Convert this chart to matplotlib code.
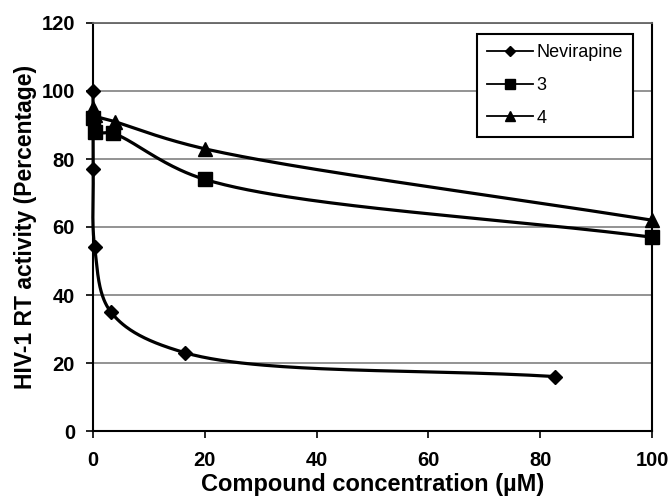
import matplotlib
matplotlib.use("Agg")
import matplotlib.pyplot as plt
from matplotlib.lines import Line2D
import numpy as np

# values
NEV_X = [0.0, 0.05, 0.3, 3.2, 16.5, 82.6]
NEV_Y = [100, 77, 54, 35, 23, 16]
C3_X = [0.0, 0.3, 3.6, 20.0, 100.0]
C3_Y = [92, 88, 87.5, 74, 57]
C4_X = [0.0, 0.3, 3.9, 20.0, 100.0]
C4_Y = [95, 93, 91, 83, 62]

SERIES = [
    ("Nevirapine", NEV_X, NEV_Y, "D", 7.5),
    ("3", C3_X, C3_Y, "s", 10),
    ("4", C4_X, C4_Y, "^", 10),
]

plt.rcParams["font.family"] = ["Liberation Sans", "DejaVu Sans"]


def smooth_curve(ax, xs, ys, steps=60):
    # centripetal Catmull-Rom done in display space, close to the
    # spreadsheet's "smoothed line" look
    pts = ax.transData.transform(np.column_stack([xs, ys]).astype(float))
    first = 2 * pts[0] - pts[1]
    last = 2 * pts[-1] - pts[-2]
    padded = np.vstack([first, pts, last])
    out = []
    for i in range(1, len(padded) - 2):
        p0, p1, p2, p3 = padded[i - 1], padded[i], padded[i + 1], padded[i + 2]
        t0 = 0.0
        t1 = t0 + max(np.linalg.norm(p1 - p0), 1e-6) ** 0.5
        t2 = t1 + max(np.linalg.norm(p2 - p1), 1e-6) ** 0.5
        t3 = t2 + max(np.linalg.norm(p3 - p2), 1e-6) ** 0.5
        t = np.linspace(t1, t2, steps)[:, None]
        a1 = (t1 - t) / (t1 - t0) * p0 + (t - t0) / (t1 - t0) * p1
        a2 = (t2 - t) / (t2 - t1) * p1 + (t - t1) / (t2 - t1) * p2
        a3 = (t3 - t) / (t3 - t2) * p2 + (t - t2) / (t3 - t2) * p3
        b1 = (t2 - t) / (t2 - t0) * a1 + (t - t0) / (t2 - t0) * a2
        b2 = (t3 - t) / (t3 - t1) * a2 + (t - t1) / (t3 - t1) * a3
        out.append((t2 - t) / (t2 - t1) * b1 + (t - t1) / (t2 - t1) * b2)
    curve = ax.transData.inverted().transform(np.vstack(out))
    return curve[:, 0], curve[:, 1]


fig = plt.figure(figsize=(6.72, 4.98), dpi=100)
ax = fig.add_axes([93 / 672, 1 - 431 / 498, 559 / 672, 408 / 498])
ax.set_xlim(0, 100)
ax.set_ylim(0, 120)

handles = []
for label, xs, ys, marker, size in SERIES:
    cx, cy = smooth_curve(ax, xs, ys)
    ax.plot(cx, cy, color="black", linewidth=2.3, zorder=3, clip_on=False)
    ax.plot(xs, ys, linestyle="none", marker=marker, markersize=size,
            color="black", zorder=4, clip_on=False)
    handles.append(Line2D([0], [0], color="black", linewidth=1.3, marker=marker,
                          markersize=size * 0.65, label=label))

ax.set_xticks(np.arange(0, 101, 20))
ax.set_yticks(np.arange(0, 121, 20))
ax.yaxis.grid(True, color="#808080", linewidth=1.2)
ax.set_axisbelow(True)
for side in ("left", "bottom", "right"):
    ax.spines[side].set_linewidth(1.5)
    ax.spines[side].set_color("black")
ax.spines["top"].set_color("#666666")
ax.spines["top"].set_linewidth(1.3)
ax.tick_params(direction="out", length=5, width=1.2, labelsize=14.5)
ax.tick_params(axis="x", pad=9.5)
ax.tick_params(axis="y", pad=8)
for lab in ax.get_xticklabels() + ax.get_yticklabels():
    lab.set_fontweight("bold")

ax.set_xlabel("Compound concentration (µM)", fontsize=17, fontweight="bold", labelpad=2)
ax.set_ylabel("HIV-1 RT activity (Percentage)", fontsize=16.5, fontweight="bold", labelpad=3)

leg = ax.legend(handles=handles, loc="upper right", bbox_to_anchor=(0.966, 0.973),
                borderaxespad=0.0, fontsize=13, frameon=True, fancybox=False,
                borderpad=0.55, labelspacing=0.88, handlelength=2.55,
                handletextpad=0.2)
leg.get_frame().set_edgecolor("black")
leg.get_frame().set_linewidth(1.5)
leg.get_frame().set_alpha(1.0)

fig.savefig("out.png", dpi=100)
